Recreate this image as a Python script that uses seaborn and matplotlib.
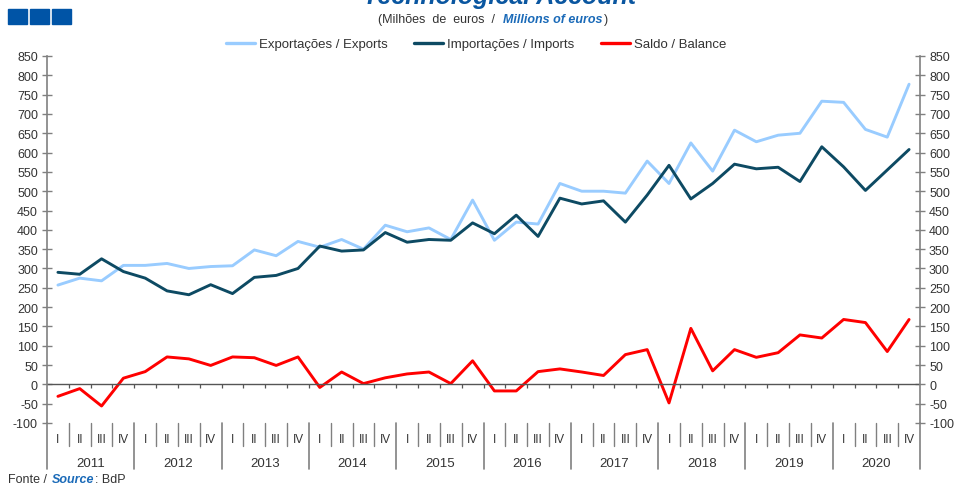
import numpy as np
import pandas as pd
import matplotlib
matplotlib.use("Agg")
import matplotlib.pyplot as plt
import matplotlib.transforms as mtransforms
from matplotlib.patches import Rectangle
import seaborn as sns

# ==========================================
# DATA
# ==========================================
years = ["2011", "2012", "2013", "2014", "2015", "2016", "2017", "2018", "2019", "2020"]
quarters = ["I", "II", "III", "IV"]

exports = [257, 275, 268, 308,
           308, 313, 300, 305,
           307, 348, 333, 370,
           355, 375, 350, 412,
           395, 405, 375, 477,
           373, 420, 415, 520,
           500, 500, 495, 578,
           520, 625, 552, 658,
           628, 645, 650, 733,
           730, 660, 640, 777]

imports = [290, 285, 325, 292,
           275, 242, 232, 258,
           235, 277, 282, 300,
           358, 345, 348, 393,
           368, 375, 373, 418,
           390, 438, 383, 482,
           467, 475, 420, 490,
           567, 480, 520, 570,
           558, 562, 525, 615,
           563, 502, 555, 608]

balance = [-31, -11, -56, 16,
           33, 71, 66, 49,
           71, 69, 49, 71,
           -8, 32, 2, 17,
           27, 32, 2, 61,
           -17, -17, 33, 40,
           32, 23, 77, 90,
           -48, 145, 35, 90,
           70, 82, 128, 120,
           168, 160, 85, 168]

series_names = ["Exportações / Exports", "Importações / Imports", "Saldo / Balance"]
colors = ["#99ccff", "#0d4a63", "#ff0000"]

y_ticks = list(range(-100, 851, 50))

# long table for seaborn
n = len(exports)
df = pd.DataFrame({
    "idx": list(range(n)) * 3,
    "value": exports + imports + balance,
    "series": [series_names[0]] * n + [series_names[1]] * n + [series_names[2]] * n,
})

# ==========================================
# STYLE
# ==========================================
sns.set_theme(style="white")
plt.rcParams["font.family"] = ["Liberation Sans", "DejaVu Sans"]
txt_col = "#333333"
axis_col = "#808080"

W, H = 958, 485
fig = plt.figure(figsize=(W / 100, H / 100), dpi=100)
ax = fig.add_axes([47 / W, 1 - 424 / H, (920 - 47) / W, (424 - 57) / H])

sns.lineplot(data=df, x="idx", y="value", hue="series", palette=colors,
             linewidth=2.1, ax=ax, legend=False, hue_order=series_names)

ax.set_xlim(-0.5, n - 0.5)
ax.set_ylim(-100, 850)
ax.set_xlabel("")
ax.set_ylabel("")
ax.set_xticks([])
ax.set_yticks(y_ticks)
ax.set_yticklabels([str(v) for v in y_ticks])
ax.tick_params(axis="y", direction="inout", length=7, width=1, color=axis_col,
               labelsize=9, labelcolor=txt_col, left=True, right=True,
               labelleft=True, labelright=True, pad=3)
for s in ["top", "bottom"]:
    ax.spines[s].set_visible(False)
for s in ["left", "right"]:
    ax.spines[s].set_color(axis_col)
    ax.spines[s].set_linewidth(1.2)

# zero line with small ticks at quarter boundaries
ax.axhline(0, color="#555555", lw=1)
bounds = np.arange(0.5, n - 0.5, 1)
ax.vlines(bounds, -9, 0, color="#555555", lw=0.9)

# lower category axis
trans = mtransforms.blended_transform_factory(ax.transData, ax.transAxes)
low = -46 / 367
qlow = -23 / 367
for sx in [0, 1]:
    ax.plot([sx, sx], [0, low], transform=ax.transAxes, color=axis_col, lw=1.2, clip_on=False)
for i in range(n):
    ax.text(i, -16 / 367, quarters[i % 4], transform=trans, ha="center", va="center",
            fontsize=8.5, color=txt_col)
for b in bounds:
    if int(b + 0.5) % 4 == 0:
        ax.plot([b, b], [0, low], transform=trans, color=axis_col, lw=1.2, clip_on=False)
    else:
        ax.plot([b, b], [0, qlow], transform=trans, color=axis_col, lw=1, clip_on=False)
for k, yr in enumerate(years):
    ax.text(4 * k + 1.5, -40 / 367, yr, transform=trans, ha="center", va="center",
            fontsize=9.5, color=txt_col)

# ==========================================
# HEADER, LEGEND, SOURCE
# ==========================================
blue = "#0a56a0"
src_blue = "#1a6ab8"
for x0 in [8, 30, 52]:
    fig.patches.append(Rectangle((x0 / W, 1 - 25 / H), 19 / W, 15 / H,
                                 transform=fig.transFigure, color="#0054a6"))

fig.text(500 / W, 1 - 4 / H, "Technological Account", ha="center", va="baseline",
         fontsize=18, fontweight="bold", fontstyle="italic", color=blue)


def chain(pieces, x_px, y_px, size):
    # draw text pieces one after another on one baseline
    x = x_px
    for s, kw in pieces:
        t = fig.text(x / W, 1 - y_px / H, s, ha="left", va="baseline", fontsize=size, **kw)
        fig.canvas.draw()
        x = t.get_window_extent().x1 + 1


chain([("(Milhões  de  euros  /  ", dict(color=txt_col)),
       ("Millions of euros", dict(color=src_blue, fontweight="bold", fontstyle="italic")),
       (")", dict(color=txt_col))], 378, 23, 9)

handles = [plt.Line2D([], [], color=c, lw=2.4) for c in colors]
fig.legend(handles, series_names, loc="center", bbox_to_anchor=(476 / W, 1 - 45 / H),
           ncol=3, frameon=False, fontsize=9.5, handlelength=2.2, handletextpad=0.3,
           columnspacing=2.0, labelcolor=txt_col)

chain([("Fonte / ", dict(color=txt_col)),
       ("Source", dict(color=src_blue, fontweight="bold", fontstyle="italic")),
       (": BdP", dict(color=txt_col))], 8, 483, 9)

fig.savefig("out.png", dpi=100)
